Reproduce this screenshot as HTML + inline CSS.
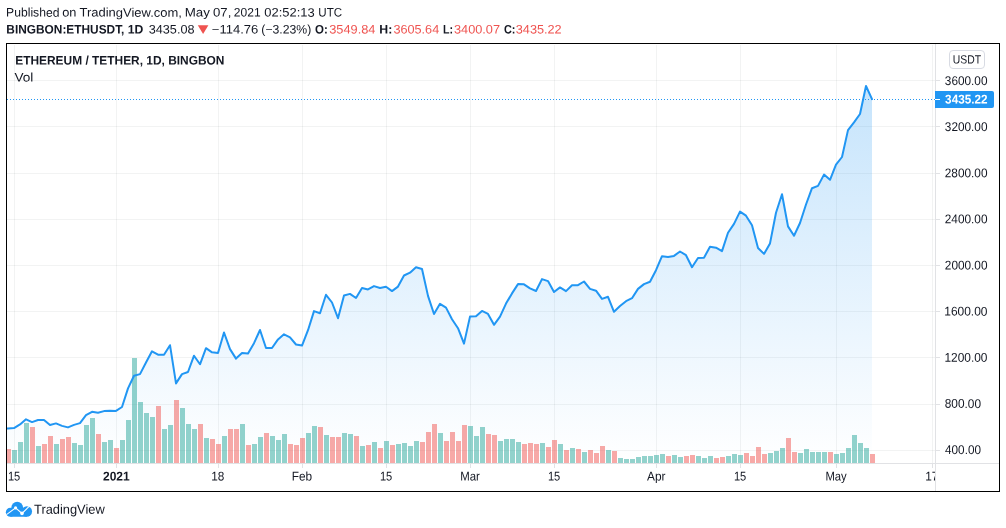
<!DOCTYPE html>
<html lang="en"><head><meta charset="utf-8"><title>ETHUSDT chart - TradingView</title>
<style>html,body{margin:0;padding:0;background:#fff}body{width:1006px;height:528px;overflow:hidden;position:relative}svg{position:absolute;left:0;top:0;display:block}text{font-family:"Liberation Sans", sans-serif;fill:#131722;white-space:pre;text-rendering:geometricPrecision}.b{font-weight:bold}.r{fill:#ef5350}.w{fill:#fff}.l{fill:#1e222d}</style></head><body>
<svg width="1006" height="528" viewBox="0 0 1006 528">
<defs>
<linearGradient id="ag" gradientUnits="userSpaceOnUse" x1="0" y1="45" x2="0" y2="463"><stop offset="0" stop-color="#2196f3" stop-opacity="0.285"/><stop offset="1" stop-color="#2196f3" stop-opacity="0"/></linearGradient>
<clipPath id="pane"><rect x="7" y="44" width="928" height="419"/></clipPath>
<clipPath id="taxis"><rect x="7" y="464" width="928" height="27"/></clipPath>
</defs>
<rect width="1006" height="528" fill="#fff"/>
<text id="t1" x="6.12" y="16.6" font-size="11.8" textLength="53.30" lengthAdjust="spacingAndGlyphs" transform="translate(6.12 16.6) skewY(0.05) scale(1 1.045) translate(-6.12 -16.6)">Published</text>
<text id="t2" x="62.25" y="16.6" font-size="11.8" textLength="14.22" lengthAdjust="spacingAndGlyphs" transform="translate(62.25 16.6) skewY(0.05) scale(1 1.045) translate(-62.25 -16.6)">on</text>
<text id="t3" x="79.53" y="16.6" font-size="11.8" textLength="102.41" lengthAdjust="spacingAndGlyphs" transform="translate(79.53 16.6) skewY(0.05) scale(1 1.045) translate(-79.53 -16.6)">TradingView.com,</text>
<text id="t4" x="184.66" y="16.6" font-size="11.8" textLength="25.19" lengthAdjust="spacingAndGlyphs" transform="translate(184.66 16.6) skewY(0.05) scale(1 1.045) translate(-184.66 -16.6)">May</text>
<text id="t5" x="213.03" y="16.6" font-size="11.8" textLength="18.29" lengthAdjust="spacingAndGlyphs" transform="translate(213.03 16.6) skewY(0.05) scale(1 1.045) translate(-213.03 -16.6)">07,</text>
<text id="t6" x="233.85" y="16.6" font-size="11.8" textLength="26.72" lengthAdjust="spacingAndGlyphs" transform="translate(233.85 16.6) skewY(0.05) scale(1 1.045) translate(-233.85 -16.6)">2021</text>
<text id="t7" x="264.35" y="16.6" font-size="11.8" textLength="50.28" lengthAdjust="spacingAndGlyphs" transform="translate(264.35 16.6) skewY(0.05) scale(1 1.045) translate(-264.35 -16.6)">02:52:13</text>
<text id="t8" x="318.36" y="16.6" font-size="11.8" textLength="23.81" lengthAdjust="spacingAndGlyphs" transform="translate(318.36 16.6) skewY(0.05) scale(1 1.045) translate(-318.36 -16.6)">UTC</text>
<text id="t9" x="6.36" y="33.45" font-size="11.8" class="b" textLength="118.02" lengthAdjust="spacingAndGlyphs" transform="translate(6.36 33.45) skewY(0.05) scale(1 1.045) translate(-6.36 -33.45)">BINGBON:ETHUSDT,</text>
<text id="t10" x="127.81" y="33.45" font-size="11.8" class="b" textLength="15.56" lengthAdjust="spacingAndGlyphs" transform="translate(127.81 33.45) skewY(0.05) scale(1 1.045) translate(-127.81 -33.45)">1D</text>
<text id="t11" x="148.78" y="33.45" font-size="11.8" textLength="45.73" lengthAdjust="spacingAndGlyphs" transform="translate(148.78 33.45) skewY(0.05) scale(1 1.045) translate(-148.78 -33.45)">3435.08</text>
<path d="M197.8 25.2h10.6l-5.3 8.9z" fill="#ef5350"/>
<text id="t12" x="211.82" y="33.45" font-size="11.8" textLength="46.51" lengthAdjust="spacingAndGlyphs" transform="translate(211.82 33.45) skewY(0.05) scale(1 1.045) translate(-211.82 -33.45)">−114.76</text>
<text id="t13" x="261.36" y="33.45" font-size="11.8" textLength="49.95" lengthAdjust="spacingAndGlyphs" transform="translate(261.36 33.45) skewY(0.05) scale(1 1.045) translate(-261.36 -33.45)">(−3.23%)</text>
<text id="t14" x="315.00" y="33.45" font-size="11.8" class="b" textLength="12.74" lengthAdjust="spacingAndGlyphs" transform="translate(315.00 33.45) skewY(0.05) scale(1 1.045) translate(-315.00 -33.45)">O:</text>
<text id="t15" x="329.28" y="33.45" font-size="11.8" class="r" textLength="46.23" lengthAdjust="spacingAndGlyphs" transform="translate(329.28 33.45) skewY(0.05) scale(1 1.045) translate(-329.28 -33.45)">3549.84</text>
<text id="t16" x="379.28" y="33.45" font-size="11.8" class="b" textLength="12.97" lengthAdjust="spacingAndGlyphs" transform="translate(379.28 33.45) skewY(0.05) scale(1 1.045) translate(-379.28 -33.45)">H:</text>
<text id="t17" x="393.46" y="33.45" font-size="11.8" class="r" textLength="45.76" lengthAdjust="spacingAndGlyphs" transform="translate(393.46 33.45) skewY(0.05) scale(1 1.045) translate(-393.46 -33.45)">3605.64</text>
<text id="t18" x="443.07" y="33.45" font-size="11.8" class="b" textLength="10.08" lengthAdjust="spacingAndGlyphs" transform="translate(443.07 33.45) skewY(0.05) scale(1 1.045) translate(-443.07 -33.45)">L:</text>
<text id="t19" x="454.03" y="33.45" font-size="11.8" class="r" textLength="46.03" lengthAdjust="spacingAndGlyphs" transform="translate(454.03 33.45) skewY(0.05) scale(1 1.045) translate(-454.03 -33.45)">3400.07</text>
<text id="t20" x="503.96" y="33.45" font-size="11.8" class="b" textLength="11.50" lengthAdjust="spacingAndGlyphs" transform="translate(503.96 33.45) skewY(0.05) scale(1 1.045) translate(-503.96 -33.45)">C:</text>
<text id="t21" x="515.78" y="33.45" font-size="11.8" class="r" textLength="45.90" lengthAdjust="spacingAndGlyphs" transform="translate(515.78 33.45) skewY(0.05) scale(1 1.045) translate(-515.78 -33.45)">3435.22</text>
<g fill="#2a2e39" fill-opacity="0.06">
<rect x="7" y="80" width="928" height="1"/>
<rect x="7" y="126" width="928" height="1"/>
<rect x="7" y="173" width="928" height="1"/>
<rect x="7" y="219" width="928" height="1"/>
<rect x="7" y="265" width="928" height="1"/>
<rect x="7" y="311" width="928" height="1"/>
<rect x="7" y="357" width="928" height="1"/>
<rect x="7" y="404" width="928" height="1"/>
<rect x="7" y="450" width="928" height="1"/>
<rect x="14" y="45" width="1" height="418"/>
<rect x="116" y="45" width="1" height="418"/>
<rect x="218" y="45" width="1" height="418"/>
<rect x="302" y="45" width="1" height="418"/>
<rect x="386" y="45" width="1" height="418"/>
<rect x="470" y="45" width="1" height="418"/>
<rect x="554" y="45" width="1" height="418"/>
<rect x="656" y="45" width="1" height="418"/>
<rect x="740" y="45" width="1" height="418"/>
<rect x="836" y="45" width="1" height="418"/>
<rect x="932" y="45" width="1" height="418"/>
</g>
<g clip-path="url(#pane)">
<path d="M2.0 428.7 L8.0 428.4 L14.0 428.1 L20.0 424.4 L26.0 419.3 L32.0 422.1 L38.0 420.0 L44.0 420.0 L50.0 425.0 L56.0 423.4 L62.0 425.9 L68.0 427.4 L74.0 424.9 L80.0 423.1 L86.0 415.2 L92.0 411.8 L98.0 412.8 L104.0 411.1 L110.0 410.8 L116.0 410.9 L122.0 407.0 L128.0 388.4 L134.0 375.7 L140.0 374.1 L146.0 362.5 L152.0 351.3 L158.0 354.7 L164.0 354.7 L170.0 345.2 L176.0 383.4 L182.0 374.1 L188.0 372.0 L194.0 355.7 L200.0 364.3 L206.0 348.2 L212.0 352.3 L218.0 353.0 L224.0 332.5 L230.0 349.1 L236.0 358.6 L242.0 353.0 L248.0 353.5 L254.0 343.2 L260.0 330.0 L266.0 348.0 L272.0 348.0 L278.0 339.4 L284.0 334.3 L290.0 337.3 L296.0 344.5 L302.0 345.6 L308.0 330.2 L314.0 311.1 L320.0 313.2 L326.0 294.8 L332.0 302.5 L338.0 318.2 L344.0 295.5 L350.0 293.9 L356.0 298.0 L362.0 288.1 L368.0 289.4 L374.0 286.1 L380.0 288.0 L386.0 286.8 L392.0 291.1 L398.0 286.6 L404.0 275.5 L410.0 272.7 L416.0 267.3 L422.0 269.0 L428.0 295.9 L434.0 314.0 L440.0 303.8 L446.0 307.6 L452.0 319.2 L458.0 328.2 L464.0 343.6 L470.0 316.6 L476.0 316.3 L482.0 310.9 L488.0 313.9 L494.0 324.8 L500.0 316.6 L506.0 303.6 L512.0 293.4 L518.0 284.1 L524.0 284.3 L530.0 288.4 L536.0 291.0 L542.0 279.1 L548.0 281.1 L554.0 292.0 L560.0 287.4 L566.0 291.1 L572.0 285.2 L578.0 285.2 L584.0 281.5 L590.0 288.9 L596.0 290.7 L602.0 298.9 L608.0 296.8 L614.0 311.8 L620.0 306.0 L626.0 301.2 L632.0 298.2 L638.0 288.9 L644.0 284.1 L650.0 281.8 L656.0 270.2 L662.0 256.2 L668.0 256.9 L674.0 255.9 L680.0 251.5 L686.0 255.2 L692.0 267.2 L698.0 258.0 L704.0 257.7 L710.0 246.8 L716.0 247.7 L722.0 251.1 L728.0 232.7 L734.0 223.9 L740.0 211.6 L746.0 215.7 L752.0 225.2 L758.0 248.0 L764.0 253.9 L770.0 243.4 L776.0 212.8 L782.0 194.3 L788.0 226.4 L794.0 235.7 L800.0 223.0 L806.0 204.5 L812.0 188.2 L818.0 185.9 L824.0 174.6 L830.0 179.8 L836.0 164.7 L842.0 157.0 L848.0 130.1 L854.0 122.4 L860.0 114.0 L866.0 86.0 L872.0 99.2 L872.0 463 L2.0 463 Z" fill="url(#ag)"/>
<path d="M12 450h5V463h-5zM18 442h5V463h-5zM24 423h5V463h-5zM36 446h5V463h-5zM54 444h5V463h-5zM72 443h5V463h-5zM78 445h5V463h-5zM84 425h5V463h-5zM90 418h5V463h-5zM102 442h5V463h-5zM108 440h5V463h-5zM120 440h5V463h-5zM126 420h5V463h-5zM132 358h5V463h-5zM138 402h5V463h-5zM144 413h5V463h-5zM150 417h5V463h-5zM162 429h5V463h-5zM168 425h5V463h-5zM180 408h5V463h-5zM186 424h5V463h-5zM192 429h5V463h-5zM204 438h5V463h-5zM222 436h5V463h-5zM240 424h5V463h-5zM252 444h5V463h-5zM258 437h5V463h-5zM270 436h5V463h-5zM276 440h5V463h-5zM282 434h5V463h-5zM306 433h5V463h-5zM312 426h5V463h-5zM324 435h5V463h-5zM342 433h5V463h-5zM348 434h5V463h-5zM360 446h5V463h-5zM372 442h5V463h-5zM384 441h5V463h-5zM396 444h5V463h-5zM402 443h5V463h-5zM408 446h5V463h-5zM414 441h5V463h-5zM438 433h5V463h-5zM468 426h5V463h-5zM474 436h5V463h-5zM480 427h5V463h-5zM498 441h5V463h-5zM504 439h5V463h-5zM510 439h5V463h-5zM516 442h5V463h-5zM540 443h5V463h-5zM558 444h5V463h-5zM570 448h5V463h-5zM582 452h5V463h-5zM606 450h5V463h-5zM618 458h5V463h-5zM624 459h5V463h-5zM630 459h5V463h-5zM636 457h5V463h-5zM642 456h5V463h-5zM648 456h5V463h-5zM654 455h5V463h-5zM660 454h5V463h-5zM672 455h5V463h-5zM678 457h5V463h-5zM696 456h5V463h-5zM702 458h5V463h-5zM708 456h5V463h-5zM726 456h5V463h-5zM732 454h5V463h-5zM738 455h5V463h-5zM768 453h5V463h-5zM774 451h5V463h-5zM780 448h5V463h-5zM798 453h5V463h-5zM804 449h5V463h-5zM810 452h5V463h-5zM816 452h5V463h-5zM822 452h5V463h-5zM834 454h5V463h-5zM840 453h5V463h-5zM846 448h5V463h-5zM852 435h5V463h-5zM858 443h5V463h-5zM864 448h5V463h-5z" fill="#26a69a" fill-opacity="0.5"/>
<path d="M6 449h5V463h-5zM30 427h5V463h-5zM42 444h5V463h-5zM48 436h5V463h-5zM60 439h5V463h-5zM66 437h5V463h-5zM96 434h5V463h-5zM114 448h5V463h-5zM156 406h5V463h-5zM174 400h5V463h-5zM198 424h5V463h-5zM210 439h5V463h-5zM216 444h5V463h-5zM228 429h5V463h-5zM234 429h5V463h-5zM246 445h5V463h-5zM264 433h5V463h-5zM288 444h5V463h-5zM294 445h5V463h-5zM300 438h5V463h-5zM318 427h5V463h-5zM330 437h5V463h-5zM336 437h5V463h-5zM354 436h5V463h-5zM366 445h5V463h-5zM378 448h5V463h-5zM390 445h5V463h-5zM420 442h5V463h-5zM426 432h5V463h-5zM432 424h5V463h-5zM444 441h5V463h-5zM450 432h5V463h-5zM456 441h5V463h-5zM462 425h5V463h-5zM486 434h5V463h-5zM492 435h5V463h-5zM522 444h5V463h-5zM528 443h5V463h-5zM534 444h5V463h-5zM546 447h5V463h-5zM552 440h5V463h-5zM564 450h5V463h-5zM576 449h5V463h-5zM588 450h5V463h-5zM594 453h5V463h-5zM600 446h5V463h-5zM612 451h5V463h-5zM666 456h5V463h-5zM684 456h5V463h-5zM690 455h5V463h-5zM714 458h5V463h-5zM720 457h5V463h-5zM744 453h5V463h-5zM750 456h5V463h-5zM756 447h5V463h-5zM762 454h5V463h-5zM786 438h5V463h-5zM792 452h5V463h-5zM828 452h5V463h-5zM870 454h5V463h-5z" fill="#ef5350" fill-opacity="0.5"/>
<path d="M2.0 428.7 L8.0 428.4 L14.0 428.1 L20.0 424.4 L26.0 419.3 L32.0 422.1 L38.0 420.0 L44.0 420.0 L50.0 425.0 L56.0 423.4 L62.0 425.9 L68.0 427.4 L74.0 424.9 L80.0 423.1 L86.0 415.2 L92.0 411.8 L98.0 412.8 L104.0 411.1 L110.0 410.8 L116.0 410.9 L122.0 407.0 L128.0 388.4 L134.0 375.7 L140.0 374.1 L146.0 362.5 L152.0 351.3 L158.0 354.7 L164.0 354.7 L170.0 345.2 L176.0 383.4 L182.0 374.1 L188.0 372.0 L194.0 355.7 L200.0 364.3 L206.0 348.2 L212.0 352.3 L218.0 353.0 L224.0 332.5 L230.0 349.1 L236.0 358.6 L242.0 353.0 L248.0 353.5 L254.0 343.2 L260.0 330.0 L266.0 348.0 L272.0 348.0 L278.0 339.4 L284.0 334.3 L290.0 337.3 L296.0 344.5 L302.0 345.6 L308.0 330.2 L314.0 311.1 L320.0 313.2 L326.0 294.8 L332.0 302.5 L338.0 318.2 L344.0 295.5 L350.0 293.9 L356.0 298.0 L362.0 288.1 L368.0 289.4 L374.0 286.1 L380.0 288.0 L386.0 286.8 L392.0 291.1 L398.0 286.6 L404.0 275.5 L410.0 272.7 L416.0 267.3 L422.0 269.0 L428.0 295.9 L434.0 314.0 L440.0 303.8 L446.0 307.6 L452.0 319.2 L458.0 328.2 L464.0 343.6 L470.0 316.6 L476.0 316.3 L482.0 310.9 L488.0 313.9 L494.0 324.8 L500.0 316.6 L506.0 303.6 L512.0 293.4 L518.0 284.1 L524.0 284.3 L530.0 288.4 L536.0 291.0 L542.0 279.1 L548.0 281.1 L554.0 292.0 L560.0 287.4 L566.0 291.1 L572.0 285.2 L578.0 285.2 L584.0 281.5 L590.0 288.9 L596.0 290.7 L602.0 298.9 L608.0 296.8 L614.0 311.8 L620.0 306.0 L626.0 301.2 L632.0 298.2 L638.0 288.9 L644.0 284.1 L650.0 281.8 L656.0 270.2 L662.0 256.2 L668.0 256.9 L674.0 255.9 L680.0 251.5 L686.0 255.2 L692.0 267.2 L698.0 258.0 L704.0 257.7 L710.0 246.8 L716.0 247.7 L722.0 251.1 L728.0 232.7 L734.0 223.9 L740.0 211.6 L746.0 215.7 L752.0 225.2 L758.0 248.0 L764.0 253.9 L770.0 243.4 L776.0 212.8 L782.0 194.3 L788.0 226.4 L794.0 235.7 L800.0 223.0 L806.0 204.5 L812.0 188.2 L818.0 185.9 L824.0 174.6 L830.0 179.8 L836.0 164.7 L842.0 157.0 L848.0 130.1 L854.0 122.4 L860.0 114.0 L866.0 86.0 L872.0 99.2" fill="none" stroke="#2196f3" stroke-width="2" stroke-linejoin="round" stroke-linecap="round"/>
</g>
<path d="M7 99.5H935" stroke="#2196f3" stroke-width="1" stroke-dasharray="1 2" fill="none"/>
<g fill="#e1e2e5">
<rect x="935" y="44" width="1" height="447"/>
<rect x="7" y="463" width="992" height="1"/>
<rect x="936" y="80" width="4" height="1"/>
<rect x="936" y="126" width="4" height="1"/>
<rect x="936" y="173" width="4" height="1"/>
<rect x="936" y="219" width="4" height="1"/>
<rect x="936" y="265" width="4" height="1"/>
<rect x="936" y="311" width="4" height="1"/>
<rect x="936" y="357" width="4" height="1"/>
<rect x="936" y="404" width="4" height="1"/>
<rect x="936" y="450" width="4" height="1"/>
<rect x="14" y="464" width="1" height="4"/>
<rect x="116" y="464" width="1" height="4"/>
<rect x="218" y="464" width="1" height="4"/>
<rect x="302" y="464" width="1" height="4"/>
<rect x="386" y="464" width="1" height="4"/>
<rect x="470" y="464" width="1" height="4"/>
<rect x="554" y="464" width="1" height="4"/>
<rect x="656" y="464" width="1" height="4"/>
<rect x="740" y="464" width="1" height="4"/>
<rect x="836" y="464" width="1" height="4"/>
<rect x="932" y="464" width="1" height="4"/>
</g>
<text id="t22" x="15.21" y="64.4" font-size="11.8" class="b" textLength="209.28" lengthAdjust="spacingAndGlyphs" transform="translate(15.21 64.4) skewY(0.05) scale(1 1.045) translate(-15.21 -64.4)">ETHEREUM / TETHER, 1D, BINGBON</text>
<text id="t23" x="14.49" y="81.4" font-size="11.8" textLength="18.91" lengthAdjust="spacingAndGlyphs" transform="translate(14.49 81.4) skewY(0.05) scale(1 1.045) translate(-14.49 -81.4)">Vol</text>
<text id="t24" x="944.85" y="84.95" font-size="12.6" textLength="42.65" lengthAdjust="spacingAndGlyphs" transform="translate(944.85 84.95) skewY(0.05) translate(-944.85 -84.95)">3600.00</text>
<text id="t25" x="944.85" y="131.08" font-size="12.6" textLength="42.65" lengthAdjust="spacingAndGlyphs" transform="translate(944.85 131.08) skewY(0.05) translate(-944.85 -131.08)">3200.00</text>
<text id="t26" x="944.75" y="177.21" font-size="12.6" textLength="42.75" lengthAdjust="spacingAndGlyphs" transform="translate(944.75 177.21) skewY(0.05) translate(-944.75 -177.21)">2800.00</text>
<text id="t27" x="944.75" y="223.34" font-size="12.6" textLength="42.75" lengthAdjust="spacingAndGlyphs" transform="translate(944.75 223.34) skewY(0.05) translate(-944.75 -223.34)">2400.00</text>
<text id="t28" x="944.82" y="269.47" font-size="12.6" textLength="42.68" lengthAdjust="spacingAndGlyphs" transform="translate(944.82 269.47) skewY(0.05) translate(-944.82 -269.47)">2000.00</text>
<text id="t29" x="944.22" y="315.6" font-size="12.6" textLength="43.28" lengthAdjust="spacingAndGlyphs" transform="translate(944.22 315.6) skewY(0.05) translate(-944.22 -315.6)">1600.00</text>
<text id="t30" x="944.46" y="361.73" font-size="12.6" textLength="43.05" lengthAdjust="spacingAndGlyphs" transform="translate(944.46 361.73) skewY(0.05) translate(-944.46 -361.73)">1200.00</text>
<text id="t31" x="944.75" y="407.86" font-size="12.6" textLength="36.26" lengthAdjust="spacingAndGlyphs" transform="translate(944.75 407.86) skewY(0.05) translate(-944.75 -407.86)">800.00</text>
<text id="t32" x="945.07" y="453.99" font-size="12.6" textLength="35.90" lengthAdjust="spacingAndGlyphs" transform="translate(945.07 453.99) skewY(0.05) translate(-945.07 -453.99)">400.00</text>
<path d="M935 91h57a2 2 0 0 1 2 2v13a2 2 0 0 1-2 2h-57z" fill="#2196f3"/>
<rect x="935" y="99" width="5" height="1" fill="#fff"/>
<text id="t33" x="945.12" y="103.5" font-size="12.6" class="b w" textLength="42.38" lengthAdjust="spacingAndGlyphs" transform="translate(945.12 103.5) skewY(0.05) translate(-945.12 -103.5)">3435.22</text>
<rect x="949.5" y="50.5" width="35" height="18" rx="3.5" fill="#fff" stroke="#d8dbe3"/>
<text id="t34" x="952.74" y="63.6" font-size="12" textLength="28.27" lengthAdjust="spacingAndGlyphs" transform="translate(952.74 63.6) skewY(0.05) translate(-952.74 -63.6)">USDT</text>
<g clip-path="url(#taxis)">
<text id="t35" x="7.90" y="480.4" font-size="12.6" textLength="12.37" lengthAdjust="spacingAndGlyphs" transform="translate(7.90 480.4) skewY(0.05) translate(-7.90 -480.4)">15</text>
<text id="t36" x="102.98" y="480.4" font-size="12.6" class="b" textLength="26.70" lengthAdjust="spacingAndGlyphs" transform="translate(102.98 480.4) skewY(0.05) translate(-102.98 -480.4)">2021</text>
<text id="t37" x="211.18" y="480.4" font-size="12.6" textLength="13.16" lengthAdjust="spacingAndGlyphs" transform="translate(211.18 480.4) skewY(0.05) translate(-211.18 -480.4)">18</text>
<text id="t38" x="291.75" y="480.4" font-size="12.6" textLength="20.42" lengthAdjust="spacingAndGlyphs" transform="translate(291.75 480.4) skewY(0.05) translate(-291.75 -480.4)">Feb</text>
<text id="t39" x="379.90" y="480.4" font-size="12.6" textLength="12.37" lengthAdjust="spacingAndGlyphs" transform="translate(379.90 480.4) skewY(0.05) translate(-379.90 -480.4)">15</text>
<text id="t40" x="460.23" y="480.4" font-size="12.6" textLength="19.67" lengthAdjust="spacingAndGlyphs" transform="translate(460.23 480.4) skewY(0.05) translate(-460.23 -480.4)">Mar</text>
<text id="t41" x="547.90" y="480.4" font-size="12.6" textLength="12.37" lengthAdjust="spacingAndGlyphs" transform="translate(547.90 480.4) skewY(0.05) translate(-547.90 -480.4)">15</text>
<text id="t42" x="647.06" y="480.4" font-size="12.6" textLength="18.50" lengthAdjust="spacingAndGlyphs" transform="translate(647.06 480.4) skewY(0.05) translate(-647.06 -480.4)">Apr</text>
<text id="t43" x="733.90" y="480.4" font-size="12.6" textLength="12.37" lengthAdjust="spacingAndGlyphs" transform="translate(733.90 480.4) skewY(0.05) translate(-733.90 -480.4)">15</text>
<text id="t44" x="825.39" y="480.4" font-size="12.6" textLength="21.34" lengthAdjust="spacingAndGlyphs" transform="translate(825.39 480.4) skewY(0.05) translate(-825.39 -480.4)">May</text>
<text id="t45" x="925.20" y="480.4" font-size="12.6" textLength="13.18" lengthAdjust="spacingAndGlyphs" transform="translate(925.20 480.4) skewY(0.05) translate(-925.20 -480.4)">17</text>
</g>
<rect x="6.5" y="43.5" width="993" height="448" fill="none" stroke="#000" stroke-width="1"/>
<g fill="#2196f3">
<circle cx="10.4" cy="512.2" r="4.55"/><circle cx="17.2" cy="507.7" r="5.9"/><circle cx="26.8" cy="511.5" r="5.25"/>
<rect x="10.4" y="508" width="16.4" height="8.75"/>
</g>
<path d="M6.5 514.6L15.6 507.9L22 513.4L28.9 506.7" fill="none" stroke="#fff" stroke-width="1.1"/>
<circle cx="15.6" cy="507.9" r="1.6" fill="#fff"/><circle cx="22" cy="513.4" r="1.8" fill="#fff"/>
<text id="t46" x="34.04" y="513.7" font-size="13.2" textLength="70.72" lengthAdjust="spacingAndGlyphs" transform="translate(34.04 513.7) skewY(0.05) translate(-34.04 -513.7)">TradingView</text>
</svg></body></html>
